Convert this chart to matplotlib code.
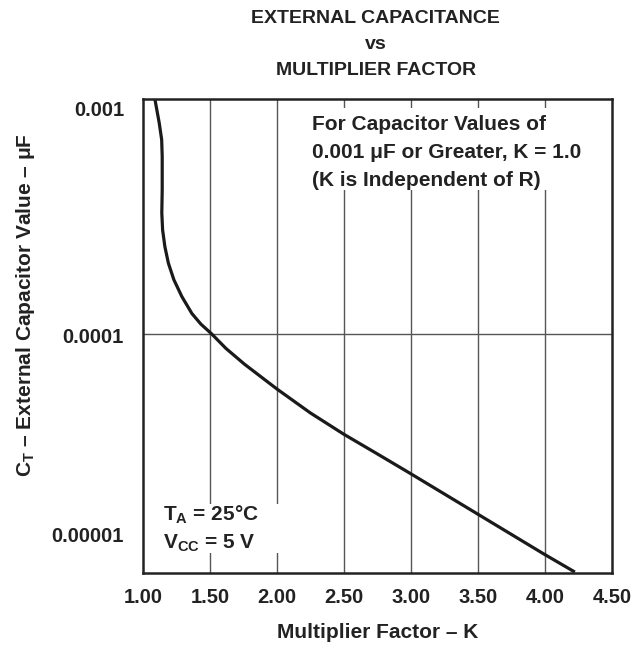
import matplotlib
matplotlib.use("Agg")
import matplotlib.pyplot as plt
from matplotlib.patches import Rectangle

plt.rcParams['font.family'] = ['Liberation Sans', 'DejaVu Sans']
plt.rcParams['font.weight'] = 'bold'
plt.rcParams['mathtext.fontset'] = 'custom'
plt.rcParams['mathtext.rm'] = 'Liberation Sans:bold'
plt.rcParams['mathtext.bf'] = 'Liberation Sans:bold'
plt.rcParams['mathtext.it'] = 'Liberation Sans:bold'

# curve: multiplier factor K vs capacitance (uF)
k_vals = [1.089, 1.122, 1.140, 1.144, 1.144, 1.141, 1.147, 1.164, 1.190,
          1.231, 1.291, 1.366, 1.433, 1.513, 1.620, 1.757, 2.00, 2.25,
          2.50, 2.744, 3.00, 3.50, 3.99, 4.224]
c_vals = [1.0e-3, 7.88e-4, 6.70e-4, 5.68e-4, 4.10e-4, 3.27e-4, 2.77e-4,
          2.35e-4, 2.00e-4, 1.70e-4, 1.44e-4, 1.22e-4, 1.10e-4, 1.0e-4,
          8.67e-5, 7.44e-5, 5.83e-5, 4.61e-5, 3.74e-5, 3.10e-5, 2.54e-5,
          1.71e-5, 1.16e-5, 9.7e-6]

x_ticks = [1.0, 1.5, 2.0, 2.5, 3.0, 3.5, 4.0, 4.5]
x_labels = ["1.00", "1.50", "2.00", "2.50", "3.00", "3.50", "4.00", "4.50"]
y_ticks = [1e-3, 1e-4, 1e-5]
y_labels = ["0.001", "0.0001", "0.00001"]
y_label_shift = [-8.5, -2.5, 23.0]   # labels in the original sit off their values
y_grid = [1e-4]

fig = plt.figure(figsize=(6.38, 6.46), dpi=100)
ax = fig.add_axes([0.224, 0.113, 0.735, 0.734])

ax.set_yscale('log')
ax.set_xlim(1.0, 4.5)
ax.set_ylim(9.61e-6, 1e-3)

for xv in x_ticks[1:-1]:
    ax.axvline(xv, color='#555555', lw=1.0, zorder=1)
for yv in y_grid:
    ax.axhline(yv, color='#555555', lw=1.0, zorder=1)

ax.plot(k_vals, c_vals, color='#1a1a1a', lw=2.3, zorder=3,
        solid_capstyle='butt', solid_joinstyle='round')

ax.set_xticks(x_ticks)
ax.set_xticklabels(x_labels, fontsize=14.5, fontweight='bold', color='#222222')
ax.set_yticks(y_ticks)
ax.set_yticklabels([])
ax.yaxis.set_minor_locator(matplotlib.ticker.NullLocator())
ax.tick_params(axis='both', which='both', length=0)
ax.tick_params(axis='x', pad=10.5)

for yv, lab, sh in zip(y_ticks, y_labels, y_label_shift):
    ax.annotate(lab, xy=(0, yv), xycoords=ax.get_yaxis_transform(),
                xytext=(-13.7, sh), textcoords='offset points',
                ha='right', va='center', fontsize=14.5, fontweight='bold',
                color='#222222', annotation_clip=False)

for sp in ax.spines.values():
    sp.set_linewidth(1.8)
    sp.set_color('#222222')
    sp.set_zorder(4)

ax.set_xlabel("Multiplier Factor \u2013 K", fontsize=15, fontweight='bold',
              labelpad=12, color='#222222')
ax.set_ylabel("C$_{\\mathrm{T}}$ \u2013 External Capacitor Value \u2013 \u03bcF",
              fontsize=15, fontweight='bold', color='#222222')
ax.yaxis.set_label_coords(-0.225, 0.565)

title_font = ['Liberation Sans Narrow', 'Liberation Sans']
fig.text(0.589, 0.971, "EXTERNAL CAPACITANCE", ha='center', va='center',
         fontsize=14, fontweight='bold', color='#222222', family=title_font)
fig.text(0.589, 0.931, "vs", ha='center', va='center',
         fontsize=14, fontweight='bold', color='#222222', family=title_font)
fig.text(0.589, 0.891, "MULTIPLIER FACTOR", ha='center', va='center',
         fontsize=14, fontweight='bold', color='#222222', family=title_font)

# white panels behind the notes break the grid lines, as in the original
ax.add_patch(Rectangle((0.35, 0.808), 0.61, 0.173, transform=ax.transAxes,
                       facecolor='white', edgecolor='none', zorder=1.5))
ax.add_patch(Rectangle((0.03, 0.042), 0.28, 0.104, transform=ax.transAxes,
                       facecolor='white', edgecolor='none', zorder=1.5))

ax.text(0.360, 0.886,
        "For Capacitor Values of\n0.001 \u03bcF or Greater, K = 1.0\n(K is Independent of R)",
        transform=ax.transAxes, ha='left', va='center', fontsize=15,
        fontweight='bold', color='#222222', linespacing=1.6, zorder=2)

ax.text(0.043, 0.094, "T$_{\\mathrm{A}}$ = 25\u00b0C\nV$_{\\mathrm{CC}}$ = 5 V",
        transform=ax.transAxes, ha='left', va='center', fontsize=15,
        fontweight='bold', color='#222222', linespacing=1.42, zorder=2)

fig.savefig("out.png", dpi=100)
